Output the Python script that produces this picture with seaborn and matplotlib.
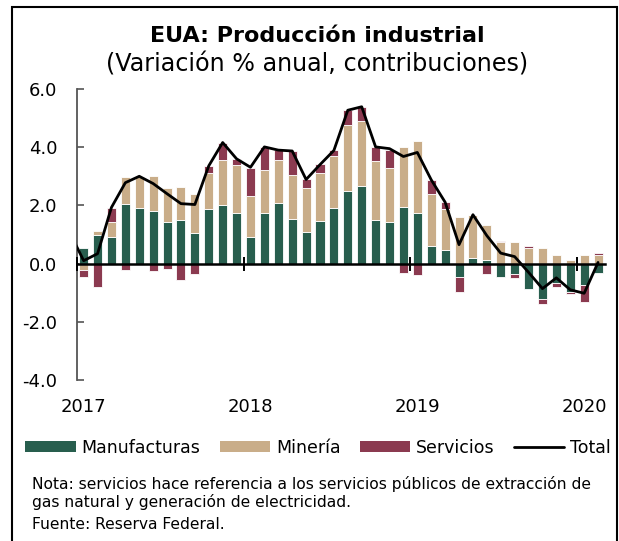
import numpy as np
import matplotlib
matplotlib.use("Agg")
import matplotlib.pyplot as plt
from matplotlib.patches import Patch, Rectangle
from matplotlib.lines import Line2D
import seaborn as sns

# monthly contributions, Jan 2017 - Feb 2020
manufacturas = [0.55, 0.99, 0.90, 2.05, 1.90, 1.82, 1.43, 1.51, 1.04, 1.88, 2.03, 1.73,
                0.93, 1.74, 2.07, 1.53, 1.08, 1.45, 1.90, 2.49, 2.65, 1.51, 1.44, 1.94,
                1.75, 0.61, 0.47, -0.45, 0.18, 0.12, -0.45, -0.37, -0.89, -1.23, -0.66, -0.98,
                -0.74, -0.31]
mineria = [-0.23, 0.14, 0.54, 0.94, 1.09, 1.18, 1.16, 1.12, 1.34, 1.23, 1.54, 1.65,
           1.41, 1.49, 1.50, 1.50, 1.52, 1.66, 1.80, 2.27, 2.26, 2.00, 1.85, 2.07,
           2.45, 1.79, 1.41, 1.61, 1.50, 1.22, 0.73, 0.73, 0.55, 0.53, 0.30, 0.12,
           0.30, 0.30]
servicios = [-0.23, -0.81, 0.47, -0.23, 0.00, -0.25, -0.20, -0.58, -0.37, 0.23, 0.58, 0.21,
             0.96, 0.78, 0.32, 0.83, 0.29, 0.30, 0.20, 0.52, 0.48, 0.50, 0.63, -0.33,
             -0.40, 0.46, 0.23, -0.52, 0.00, -0.37, 0.06, -0.14, 0.06, -0.17, -0.15, -0.06,
             -0.59, 0.05]
# total starts one month earlier (Dec 2016), clipped by the axis
total = [1.07, 0.10, 0.34, 1.93, 2.78, 3.00, 2.75, 2.40, 2.06, 2.03, 3.36, 4.16, 3.60,
         3.31, 4.01, 3.90, 3.87, 2.89, 3.40, 3.89, 5.27, 5.39, 4.01, 3.95, 3.68,
         3.82, 2.88, 2.11, 0.65, 1.68, 0.96, 0.36, 0.24, -0.30, -0.86, -0.49, -0.90,
         -1.02, 0.04]
years = ["2017", "2018", "2019", "2020"]
yticks = [-4.0, -2.0, 0.0, 2.0, 4.0, 6.0]

series = [("Manufacturas", manufacturas, "#285E4E"),
          ("Minería", mineria, "#C9AD89"),
          ("Servicios", servicios, "#8B3A50")]

sns.set_theme(style="white")
plt.rcParams["font.family"] = ["DejaVu Sans"]
plt.rcParams["axes.unicode_minus"] = False
plt.rcParams["text.color"] = "black"
plt.rcParams["xtick.labelcolor"] = "black"
plt.rcParams["ytick.labelcolor"] = "black"

fig = plt.figure(figsize=(6.19, 5.41), dpi=100)
ax = fig.add_axes([0.1239, 0.2976, 0.8535, 0.5379])

x = np.arange(len(manufacturas))
pos = np.zeros(len(x))
neg = np.zeros(len(x))
for name, vals, color in series:
    v = np.array(vals)
    bottom = np.where(v >= 0, pos, neg)
    ax.bar(x, v, bottom=bottom, width=0.65, color=color, edgecolor="white", linewidth=0.6)
    pos = pos + np.clip(v, 0, None)
    neg = neg + np.clip(v, None, 0)

xt = np.arange(-1, len(manufacturas))
sns.lineplot(x=xt, y=total, ax=ax, color="black", linewidth=2.0, legend=False, zorder=4)

ax.set_xlim(-0.5, len(manufacturas) - 0.5)
ax.set_ylim(-4, 6)
ax.set_yticks(yticks)
ax.set_yticklabels([f"{v:.1f}" for v in yticks], fontsize=13)
ax.tick_params(axis="y", direction="in", length=5, width=1.2, color="#555555", pad=14, left=True)

ax.set_xticks([0, 12, 24, 36])
ax.set_xticklabels(years, fontsize=13)
ax.tick_params(axis="x", length=0, pad=13)

for s in ["top", "right", "bottom"]:
    ax.spines[s].set_visible(False)
ax.spines["left"].set_color("#555555")
ax.spines["left"].set_linewidth(1.3)

# zero line with year ticks
zero_ax = ax.secondary_xaxis(0.4)
zero_ax.set_zorder(3)
zero_ax.set_xticks([-0.5, 11.5, 23.5, 35.5])
zero_ax.set_xticklabels([])
zero_ax.tick_params(direction="inout", length=10, width=1.4, color="black")
zero_ax.spines["bottom"].set_color("black")
zero_ax.spines["bottom"].set_linewidth(1.8)

fig.text(0.512, 0.933, "EUA: Producción industrial", ha="center", va="center",
         fontsize=16, fontweight="bold")
fig.text(0.512, 0.880, "(Variación % anual, contribuciones)", ha="center", va="center",
         fontsize=17.2)

handles = [Patch(facecolor=c, edgecolor="none") for _, _, c in series]
handles.append(Line2D([0], [0], color="black", linewidth=2.0))
labels = [n for n, _, _ in series] + ["Total"]
fig.legend(handles, labels, loc="center", bbox_to_anchor=(0.514, 0.172), ncol=4,
           frameon=False, fontsize=12.5, handlelength=2.9, handleheight=0.62,
           handletextpad=0.35, columnspacing=1.1)

fig.text(0.052, 0.0887, "Nota: servicios hace referencia a los servicios públicos de extracción de\n"
         "gas natural y generación de electricidad.", ha="left", va="center",
         fontsize=11.2, linespacing=1.1)
fig.text(0.052, 0.0296, "Fuente: Reserva Federal.", ha="left", va="center", fontsize=11.2)

fig.add_artist(Rectangle((12 / 619, -0.05), 605 / 619, 1.037, transform=fig.transFigure,
                         fill=False, edgecolor="black", linewidth=1.5))

fig.savefig("out.png", dpi=100)
